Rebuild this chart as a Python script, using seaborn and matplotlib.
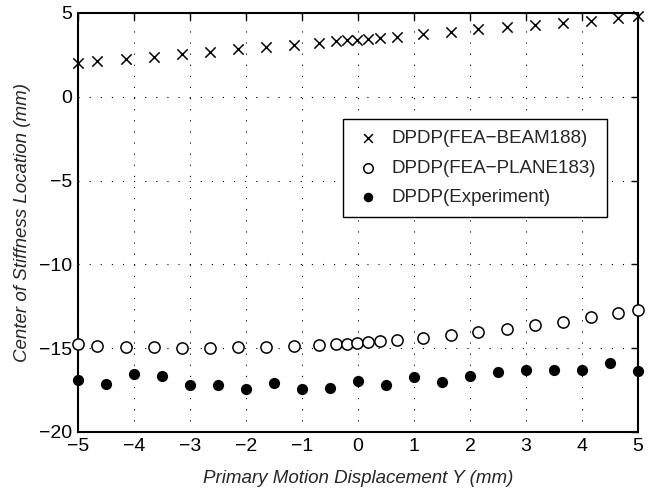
import matplotlib
matplotlib.use("Agg")
import matplotlib.pyplot as plt
import seaborn as sns
import pandas as pd

# Data
beam_x = [-5.0, -4.66, -4.14, -3.64, -3.14, -2.64, -2.14, -1.64, -1.14, -0.70, -0.39, -0.20, -0.02,
          0.18, 0.39, 0.70, 1.16, 1.66, 2.14, 2.66, 3.16, 3.66, 4.16, 4.64, 5.0]
beam_y = [2.0, 2.12, 2.25, 2.38, 2.55, 2.68, 2.83, 2.96, 3.1, 3.22, 3.32, 3.36, 3.4,
          3.45, 3.5, 3.58, 3.75, 3.88, 4.02, 4.15, 4.3, 4.42, 4.55, 4.68, 4.8]
plane_y = [-14.75, -14.85, -14.9, -14.95, -14.97, -14.97, -14.95, -14.9, -14.87, -14.8, -14.77, -14.73, -14.7,
           -14.65, -14.57, -14.53, -14.4, -14.23, -14.05, -13.85, -13.63, -13.42, -13.16, -12.9, -12.7]
exp_x = [-5.0, -4.5, -4.0, -3.5, -3.0, -2.5, -2.0, -1.5, -1.0, -0.5, 0.0,
         0.5, 1.0, 1.5, 2.0, 2.5, 3.0, 3.5, 4.0, 4.5, 5.0]
exp_y = [-16.9, -17.14, -16.54, -16.64, -17.2, -17.2, -17.45, -17.1, -17.45, -17.36, -16.94,
         -17.18, -16.72, -17.03, -16.66, -16.44, -16.32, -16.28, -16.28, -15.87, -16.34]
labels = ["DPDP(FEA\u2212BEAM188)", "DPDP(FEA\u2212PLANE183)", "DPDP(Experiment)"]
xticks = [-5, -4, -3, -2, -1, 0, 1, 2, 3, 4, 5]
yticks = [-20, -15, -10, -5, 0, 5]

sns.set_style("white")
plt.rcParams['font.family'] = ['Liberation Sans', 'DejaVu Sans']
plt.rcParams['axes.unicode_minus'] = True

fig = plt.figure(figsize=(6.51, 4.93), dpi=100)
ax = fig.add_axes([78/651, 1-432/493, 560/651, 419/493])

df_beam = pd.DataFrame({"x": beam_x, "y": beam_y})
df_plane = pd.DataFrame({"x": beam_x, "y": plane_y})
df_exp = pd.DataFrame({"x": exp_x, "y": exp_y})

sns.scatterplot(data=df_beam, x="x", y="y", ax=ax, marker="x", color="black", s=55,
                linewidth=1.1, label=labels[0], zorder=3, clip_on=False)
sns.scatterplot(data=df_plane, x="x", y="y", ax=ax, marker="o", facecolor="white",
                edgecolor="black", s=65, linewidth=1.1, label=labels[1], zorder=3, clip_on=False)
sns.scatterplot(data=df_exp, x="x", y="y", ax=ax, marker="o", color="black", s=65,
                linewidth=0, label=labels[2], zorder=3, clip_on=False)

ax.set_xlim(-5, 5)
ax.set_ylim(-20, 5)
ax.set_xticks(xticks)
ax.set_yticks(yticks)
ax.set_xticklabels([str(t).replace('-', '\u2212') for t in xticks])
ax.set_yticklabels([str(t).replace('-', '\u2212') for t in yticks])
ax.tick_params(direction='in', length=5, width=1, top=True, right=True,
               labelsize=14, colors='black', pad=4)
for sp in ax.spines.values():
    sp.set_visible(True)
    sp.set_color('black')
    sp.set_linewidth(1.5)
ax.grid(True, color='black', linestyle=(0, (1, 9)), linewidth=0.8)
ax.set_axisbelow(True)

ax.set_xlabel("Primary Motion Displacement Y (mm)", fontsize=13.5, style='italic', labelpad=11)
ax.set_ylabel("Center of Stiffness Location (mm)", fontsize=13.5, style='italic', labelpad=6)

leg = ax.legend(loc='upper left', bbox_to_anchor=(0.473, 0.747), fontsize=13.5,
                frameon=True, fancybox=False, edgecolor='black', framealpha=1,
                borderpad=0.6, labelspacing=0.65, handletextpad=0.5, handlelength=1.5,
                borderaxespad=0, markerscale=0.85)
leg.get_frame().set_linewidth(1.0)

fig.savefig("out.png", dpi=100)
